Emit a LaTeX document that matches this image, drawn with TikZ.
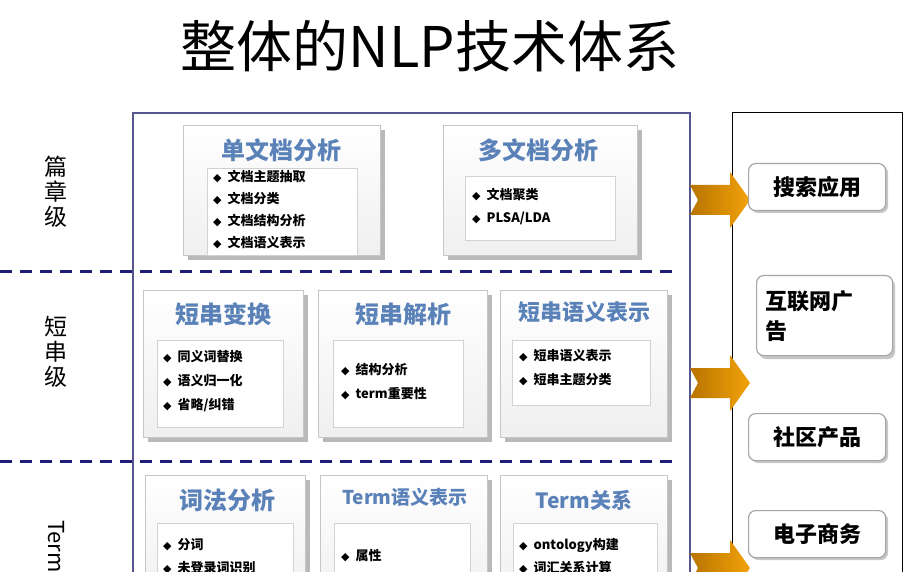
\documentclass[tikz,border=0pt]{standalone}
\usepackage{fontspec}
\setmainfont{Noto Sans CJK SC}
\newfontfamily\djv{DejaVu Sans}
\definecolor{navy}{HTML}{1E1E78}
\definecolor{frame}{HTML}{55558F}
\definecolor{ttl}{HTML}{5A82B8}
\definecolor{orA}{HTML}{B87400}
\definecolor{orB}{HTML}{F2A20A}
\tikzset{
 x=1pt,y=-1pt,
 ttlstyle/.style={font=\fontsize{24}{26}\selectfont\bfseries, text=ttl, inner sep=0},
 itmstyle/.style={font=\fontsize{13}{14}\selectfont\bfseries, anchor=west, inner sep=0},
 appbox/.style={draw=gray!70, line width=1.2pt, rounded corners=7pt, fill=white, font=\fontsize{22}{26}\selectfont\bfseries, align=left},
}
\newcommand\panel[5]{%
 \fill[gray!55] (#1+5,#2+5) rectangle (#3+5,#4+5);
 \shade[top color=white,bottom color=gray!12,draw=gray!45] (#1,#2) rectangle (#3,#4);
 \node[coordinate] (#5) at (#1,#2) {};}
\newcommand\inner[4]{\draw[gray!35,fill=white] (#1,#2) rectangle (#3,#4);}
\newcommand\itm[4]{\node[itmstyle] (#4) at (#1,#2) {{\djv\fontsize{11}{12}\selectfont ◆}\hspace{6pt}#3};}
\newcommand\orarrow[2]{\shade[left color=orA,right color=orB] (690,#1-15) -- (730,#1-15) -- (730,#1-28) -- (750,#1) -- (730,#1+28) -- (730,#1+15) -- (690,#1+15) -- (698,#1) -- cycle; \node[coordinate] (#2) at (690,#1) {};}
\begin{document}
\begin{tikzpicture}
\useasboundingbox (0,0) rectangle (924,572);
\begin{scope}
\clip (0,0) rectangle (924,572);
\fill[white] (0,0) rectangle (924,572);
\node[font=\fontsize{56}{60}\selectfont, inner sep=0] (title) at (430,46) {整体的NLP技术体系};
% frames
\draw[frame, line width=1.2pt] (133,640) -- (133,113) -- (690,113) -- (690,640);
\draw[black, line width=1pt] (732,640) -- (732,113) -- (902,113) -- (902,640);
\draw[navy, line width=3pt, dash pattern=on 12pt off 8pt] (0,272) -- (672,272);
\draw[navy, line width=3pt, dash pattern=on 12pt off 8pt] (0,461) -- (672,461);
% left labels
\node[font=\fontsize{23}{25}\selectfont, align=center, inner sep=0] (lv1) at (56,192) {篇\\章\\级};
\node[font=\fontsize{23}{25}\selectfont, align=center, inner sep=0] (lv2) at (56,352) {短\\串\\级};
\node[font=\fontsize{22}{23}\selectfont, rotate=-90, anchor=west, inner sep=0] (lv3) at (56,520) {Term};
% level 1
\panel{183}{125}{380}{255}{p11}
\inner{207}{168}{357}{255}
\node[ttlstyle] (t11) at (281,150) {单文档分析};
\itm{213}{177}{文档主题抽取}{a1}
\itm{213}{199}{文档分类}{a2}
\itm{213}{221}{文档结构分析}{a3}
\itm{213}{243}{文档语义表示}{a4}
\panel{443}{125}{637}{255}{p12}
\inner{465}{176}{615}{240}
\node[ttlstyle] (t12) at (538,150) {多文档分析};
\itm{472}{195}{文档聚类}{b1}
\itm{472}{218}{PLSA/LDA}{b2}
% level 2
\panel{143}{290}{303}{437}{p21}
\inner{157}{340}{283}{427}
\node[ttlstyle] (t21) at (223,314) {短串变换};
\itm{163}{357}{同义词替换}{c1}
\itm{163}{381}{语义归一化}{c2}
\itm{163}{405}{省略/纠错}{c3}
\panel{318}{290}{487}{437}{p22}
\inner{333}{340}{463}{427}
\node[ttlstyle] (t22) at (403,314) {短串解析};
\itm{341}{370}{结构分析}{d1}
\itm{341}{394}{term重要性}{d2}
\panel{500}{290}{667}{437}{p23}
\inner{512}{340}{650}{405}
\node[ttlstyle,font=\fontsize{22}{24}\selectfont\bfseries] (t23) at (584,312) {短串语义表示};
\itm{519}{356}{短串语义表示}{e1}
\itm{519}{380}{短串主题分类}{e2}
% level 3
\panel{145}{475}{305}{600}{p31}
\inner{157}{523}{293}{600}
\node[ttlstyle] (t31) at (227,500) {词法分析};
\itm{163}{545}{分词}{f1}
\itm{163}{568}{未登录词识别}{f2}
\panel{320}{475}{487}{600}{p32}
\inner{334}{523}{470}{600}
\node[ttlstyle,font=\fontsize{19}{22}\selectfont\bfseries] (t32) at (405,497) {Term语义表示};
\itm{341}{556}{属性}{g1}
\panel{500}{475}{667}{600}{p33}
\inner{513}{523}{657}{600}
\node[ttlstyle,font=\fontsize{21}{22}\selectfont\bfseries] (t33) at (584,500) {Term关系};
\itm{519}{545}{ontology构建}{h1}
\itm{519}{568}{词汇关系计算}{h2}
% arrows
\orarrow{200}{ar1}
\orarrow{383}{ar2}
\orarrow{568}{ar3}
% application boxes
\fill[gray!45, rounded corners=7pt] (751,166) rectangle (888,213);
\node[appbox, minimum width=137pt, minimum height=47pt, anchor=north west] (s1) at (748,163) {搜索应用};
\fill[gray!45, rounded corners=7pt] (759,279) rectangle (895,359);
\node[appbox, minimum width=136pt, minimum height=80pt, anchor=north west, text width=118pt, font=\fontsize{22}{30}\selectfont\bfseries] (s2) at (756,275) {互联网广\\告};
\fill[gray!45, rounded corners=7pt] (751,416) rectangle (888,463);
\node[appbox, minimum width=137pt, minimum height=47pt, anchor=north west] (s3) at (748,413) {社区产品};
\fill[gray!45, rounded corners=7pt] (751,513) rectangle (888,560);
\node[appbox, minimum width=137pt, minimum height=47pt, anchor=north west] (s4) at (748,510) {电子商务};
\end{scope}
\end{tikzpicture}
\end{document}
